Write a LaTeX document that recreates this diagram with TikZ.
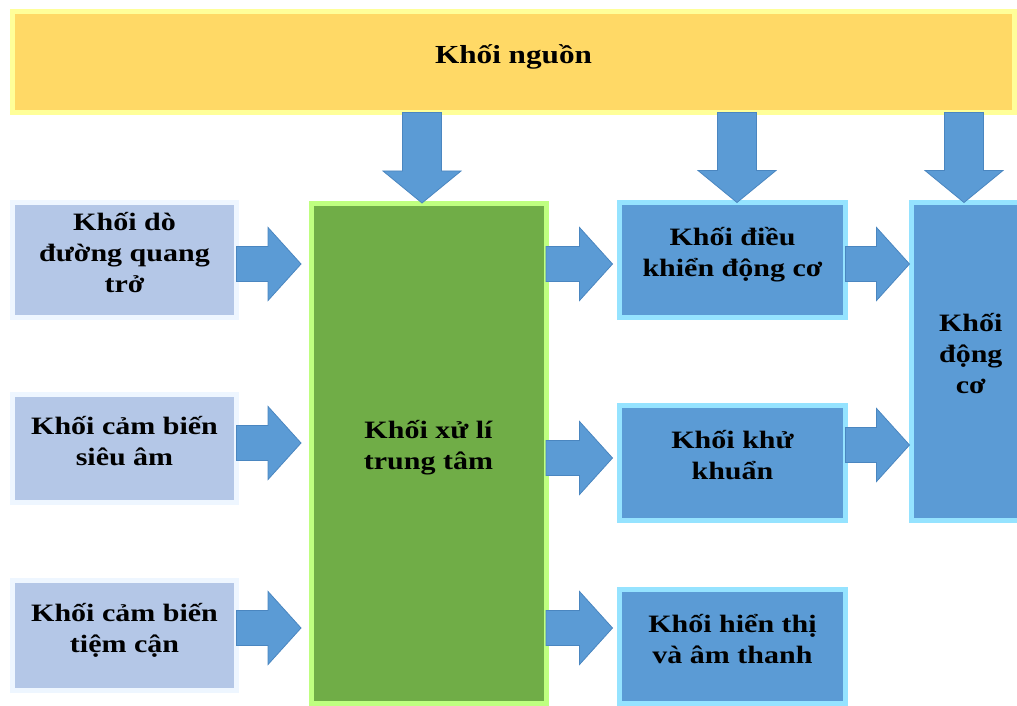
\documentclass[tikz,border=0pt]{standalone}
\usepackage{fontspec}
\setmainfont{Liberation Serif}[FakeStretch=1.2]
\usetikzlibrary{calc,shadows}
\definecolor{topfill}{HTML}{FFD966}
\definecolor{topedge}{HTML}{FFFF99}
\definecolor{leftfill}{HTML}{B4C7E7}
\definecolor{leftedge}{HTML}{EEF6FF}
\definecolor{greenfill}{HTML}{70AD47}
\definecolor{greenedge}{HTML}{BFFF80}
\definecolor{bluefill}{HTML}{5B9BD5}
\definecolor{blueedge}{HTML}{95E3FF}
\definecolor{arrowline}{HTML}{4A86C0}
\newcommand\tx[1]{\raisebox{3.75pt}[\height][\depth]{\begin{tabular}{@{}c@{}}#1\end{tabular}}}
\newcommand\RArr[4]{%
\draw[barrow] let \p1=(#1.east), \p2=(#2.west), \p3=(0,#3) in
 (\x1,\y3+13.1pt) -- (\x2-#4-24.75pt,\y3+13.1pt) -- (\x2-#4-24.75pt,\y3+27.4pt)
 -- (\x2-#4,\y3) -- (\x2-#4-24.75pt,\y3-27.4pt) -- (\x2-#4-24.75pt,\y3-13.1pt)
 -- (\x1,\y3-13.1pt) -- cycle;}
\newcommand\DArr[3]{%
\draw[barrow] let \p1=(#1.south), \p2=(#2.north), \p3=(#3,0) in
 (\x3-14.6pt,\y1) -- (\x3-14.6pt,\y2+24pt) -- (\x3-29.25pt,\y2+24pt)
 -- (\x3,\y2) -- (\x3+29.25pt,\y2+24pt) -- (\x3+14.6pt,\y2+24pt)
 -- (\x3+14.6pt,\y1) -- cycle;}
\begin{document}
\begin{tikzpicture}[x=0.75pt,y=-0.75pt,
  blk/.style={rectangle, line width=3.75pt, outer sep=0pt, inner sep=0pt,
    font=\bfseries\fontsize{18.75}{23.25}\selectfont,
    drop shadow={shadow xshift=1.5pt, shadow yshift=-1.5pt, opacity=0.18, fill=black}},
  topblk/.style={blk, fill=topfill, draw=topedge},
  leftblk/.style={blk, fill=leftfill, draw=leftedge, minimum width=168pt},
  greenblk/.style={blk, fill=greenfill, draw=greenedge},
  blueblk/.style={blk, fill=bluefill, draw=blueedge},
  barrow/.style={fill=bluefill, draw=arrowline, line width=0.6pt, line join=miter}]
\useasboundingbox (0,0) rectangle (1017,706);
\fill[white] (0,0) rectangle (1017,706);

\node[topblk, minimum width=751.5pt, minimum height=75.75pt] (src) at (513.5,62) {\tx{\fontsize{19.5}{23.25}\selectfont Khối nguồn}};

\node[leftblk, minimum height=86.25pt] (L1) at (124.5,260) {\tx{Khối dò\\đường quang\\trở}};
\node[leftblk, minimum height=81pt] (L2) at (124.5,448.5) {\tx{Khối cảm biến\\siêu âm}};
\node[leftblk, minimum height=82.5pt] (L3) at (124.5,635.5) {\tx{Khối cảm biến\\tiệm cận}};

\node[greenblk, minimum width=176.25pt, minimum height=375pt] (C) at (428.5,453) {\tx{Khối xử lí\\trung tâm}};

\node[blueblk, minimum width=169.5pt, minimum height=86.25pt] (B1) at (732.5,260) {\tx{Khối điều\\khiển động cơ}};
\node[blueblk, minimum width=169.5pt, minimum height=86.25pt] (B2) at (732.5,463) {\tx{Khối khử\\khuẩn}};
\node[blueblk, minimum width=169.5pt, minimum height=85.5pt] (B3) at (732.5,646.5) {\tx{Khối hiển thị\\và âm thanh}};

\node[blueblk, minimum width=88.9pt, minimum height=238.5pt] (M) at (970.75,361.5) {\tx{Khối\\động\\cơ}};

\DArr{src}{C}{422}
\DArr{src}{B1}{737}
\DArr{src}{M}{964}

\RArr{L1}{C}{264}{7.5pt}
\RArr{L2}{C}{443}{7.5pt}
\RArr{L3}{C}{628}{7.5pt}
\RArr{C}{B1}{264}{5.25pt}
\RArr{C}{B2}{458}{5.25pt}
\RArr{C}{B3}{628}{5.25pt}
\RArr{B1}{M}{264}{1.5pt}
\RArr{B2}{M}{445}{1.5pt}
\end{tikzpicture}
\end{document}
